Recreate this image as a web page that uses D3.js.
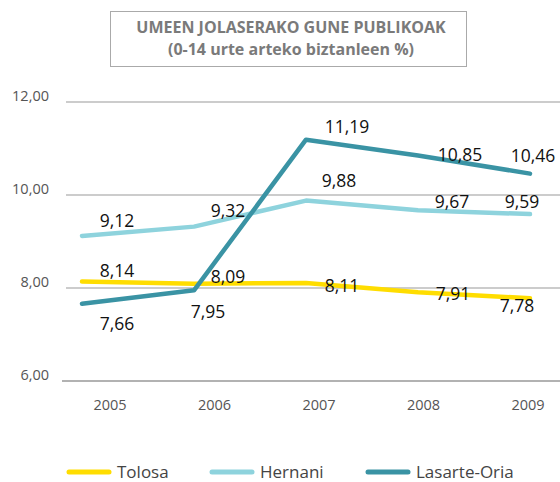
<!DOCTYPE html>
<html>
<head>
<meta charset="utf-8">
<script src="https://cdn.jsdelivr.net/npm/d3@7"></script>
<style>
  body { margin: 0; background: #fff; }
  text { font-family: "Open Sans", "Noto Sans", sans-serif; }
</style>
</head>
<body>
<div id="container"></div>
<script>
var years = ['2005', '2006', '2007', '2008', '2009'];
var yTicks = [6, 8, 10, 12];
var seriesNames = ['Tolosa', 'Hernani', 'Lasarte-Oria'];
var tolosa = [8.14, 8.09, 8.11, 7.91, 7.78];
var hernani = [9.12, 9.32, 9.88, 9.67, 9.59];
var lasarte = [7.66, 7.95, 11.19, 10.85, 10.46];
var titleLines = ['UMEEN JOLASERAKO GUNE PUBLIKOAK', '(0-14 urte  arteko biztanleen %)'];

// value label offsets (pixels, relative to the point)
var labelDx = [[35, 34, 36, 35, -13], [35, 34, 33, 34, -8], [35, 14, 41, 42, 3]];
var labelDy = [[-4, -1, 9, 8, 14], [-9, -10, -14, -2, -6], [26, 28, -7, 6, -12]];

var colors = ['#ffdd00', '#8ed3dd', '#3a93a4'];
var series = [tolosa, hernani, lasarte];

var width = 560, height = 482;

var svg = d3.select('#container')
    .append('svg')
    .attr('width', width)
    .attr('height', height);

// title box
svg.append('rect')
    .attr('x', 110.5).attr('y', 11.5)
    .attr('width', 356).attr('height', 55)
    .style('fill', 'none')
    .style('stroke', '#aaa')
    .style('stroke-width', 1);

svg.selectAll('.title')
    .data(titleLines)
    .enter()
    .append('text')
    .attr('class', 'title')
    .attr('x', 291)
    .attr('y', function(d, i) { return 33 + i * 22; })
    .attr('text-anchor', 'middle')
    .style('font-size', '16px')
    .style('font-weight', 'bold')
    .style('fill', '#7a7a7a')
    .text(function(d) { return d; });

var scaleY = d3.scaleLinear()
    .domain([6, 12])
    .range([381, 102]);

var scaleX = d3.scalePoint()
    .domain(years)
    .range([82, 530]);

var scaleXLabel = d3.scalePoint()
    .domain(years)
    .range([110, 528]);

var fmt = function(v) { return d3.format('.2f')(v).replace('.', ','); };

// grid lines
svg.selectAll('.grid')
    .data(yTicks)
    .enter()
    .append('line')
    .attr('x1', function(d) { return d === 6 ? 62 : 66; })
    .attr('x2', 560)
    .attr('y1', function(d) { return scaleY(d); })
    .attr('y2', function(d) { return scaleY(d); })
    .style('stroke', function(d) { return d === 6 ? '#999' : '#bbb'; })
    .style('stroke-width', 1.5);

svg.selectAll('.ytick')
    .data(yTicks)
    .enter()
    .append('text')
    .attr('x', 49)
    .attr('y', function(d) { return scaleY(d) - 1; })
    .attr('text-anchor', 'end')
    .style('font-size', '14.5px')
    .style('fill', '#555')
    .text(function(d) { return fmt(d); });

svg.selectAll('.xtick')
    .data(years)
    .enter()
    .append('text')
    .attr('x', function(d) { return scaleXLabel(d); })
    .attr('y', 410)
    .attr('text-anchor', 'middle')
    .style('font-size', '14.5px')
    .style('fill', '#555')
    .text(function(d) { return d; });

var line = d3.line()
    .x(function(d, i) { return scaleX(years[i]); })
    .y(function(d) { return scaleY(d); });

svg.selectAll('.series')
    .data(series)
    .enter()
    .append('path')
    .attr('d', function(d) { return line(d); })
    .style('fill', 'none')
    .style('stroke', function(d, i) { return colors[i]; })
    .style('stroke-width', 4.5)
    .style('stroke-linecap', 'round')
    .style('stroke-linejoin', 'round');

series.forEach(function(s, si) {
    svg.selectAll('.lbl' + si)
        .data(s)
        .enter()
        .append('text')
        .attr('x', function(d, i) { return scaleX(years[i]) + labelDx[si][i]; })
        .attr('y', function(d, i) { return scaleY(d) + labelDy[si][i]; })
        .attr('text-anchor', 'middle')
        .style('font-size', '17.5px')
        .style('fill', '#111')
        .text(function(d) { return fmt(d); });
});

// legend
var legendX = [69, 212, 368];
var leg = svg.selectAll('.legend')
    .data(seriesNames)
    .enter()
    .append('g')
    .attr('transform', function(d, i) { return 'translate(' + legendX[i] + ',472)'; });

leg.append('line')
    .attr('x1', 0).attr('x2', 40)
    .attr('y1', 0).attr('y2', 0)
    .style('stroke', function(d, i) { return colors[i]; })
    .style('stroke-width', 5)
    .style('stroke-linecap', 'round');

leg.append('text')
    .attr('x', 48)
    .attr('y', 6)
    .style('font-size', '17px')
    .style('fill', '#444')
    .text(function(d) { return d; });
</script>
</body>
</html>
